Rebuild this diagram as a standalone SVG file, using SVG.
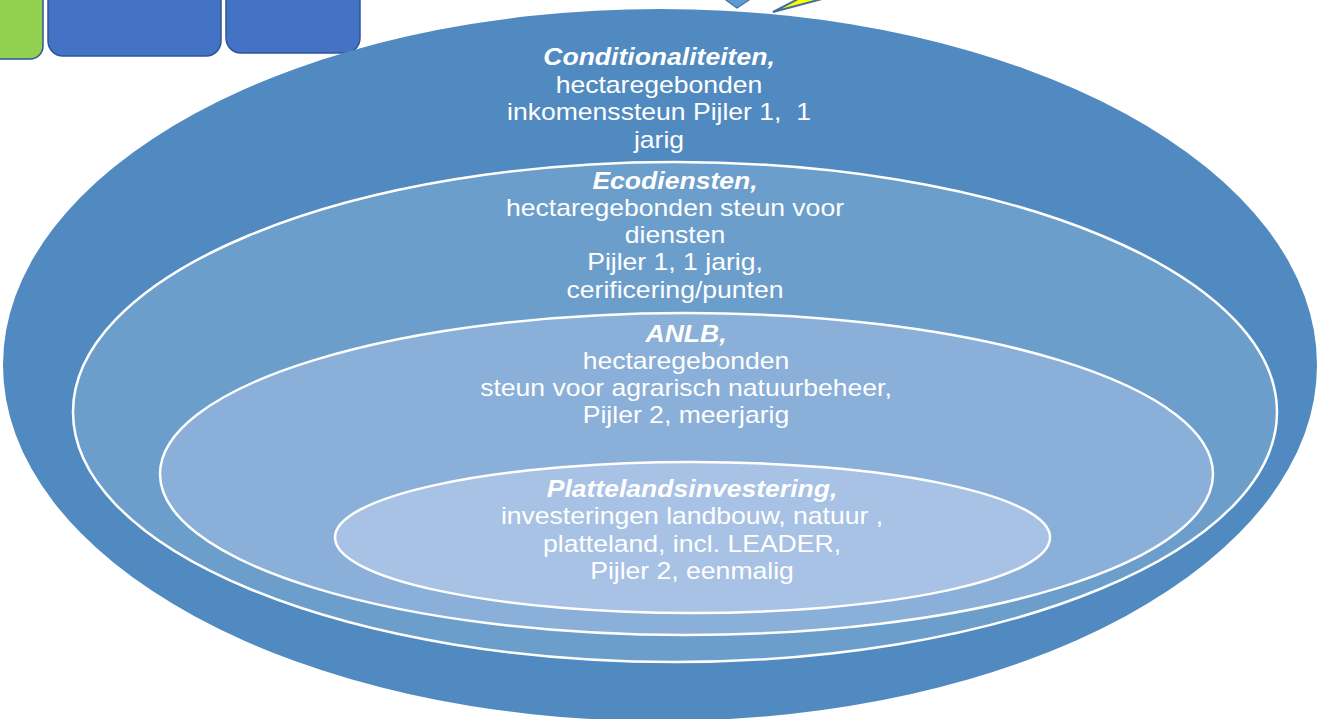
<svg xmlns="http://www.w3.org/2000/svg" width="1319" height="719" viewBox="0 0 1319 719">
<style>
.t{font-family:"Liberation Sans",Arial,sans-serif;font-size:23px;fill:#ffffff;text-anchor:middle}
.b{font-weight:bold;font-style:italic}
.ring{stroke:#ffffff;stroke-width:2.5}
.box{stroke:#2F5597;stroke-width:1.5}
</style>
<rect width="1319" height="719" fill="#ffffff"/>
<g id="top-boxes">
<rect id="box-green" class="box" x="-20" y="-20" width="63" height="79" rx="13" fill="#92D050"/>
<rect id="box-blue-1" class="box" x="48" y="-20" width="173" height="76" rx="15" fill="#4472C4"/>
<rect id="box-blue-2" class="box" x="226" y="-20" width="134" height="73" rx="15" fill="#4472C4"/>
</g>
<g id="top-arrows">
<polygon points="723,-2 752,-2 737,8" fill="#5B9BD5" stroke="#41719C" stroke-width="1.2"/>
<polygon points="773,12 798,-1 822,-1" fill="#FFFF00" stroke="#41719C" stroke-width="2"/>
</g>
<g id="node-conditionaliteiten">
<ellipse cx="660" cy="365" rx="657" ry="356" fill="#518AC0"/>
<g transform="translate(659,0) scale(1.155,1)">
<text class="t b" x="0" y="65">Conditionaliteiten,</text>
<text class="t" x="0" y="93">hectaregebonden</text>
<text class="t" x="0" y="120">inkomenssteun Pijler 1,&#160; 1</text>
<text class="t" x="0" y="148">jarig</text>
</g>
</g>
<g id="node-ecodiensten">
<ellipse class="ring" cx="675" cy="412" rx="602" ry="250" fill="#6C9ECC"/>
<g transform="translate(675,0) scale(1.155,1)">
<text class="t b" x="0" y="189">Ecodiensten,</text>
<text class="t" x="0" y="216">hectaregebonden steun voor</text>
<text class="t" x="0" y="243">diensten</text>
<text class="t" x="0" y="270">Pijler 1, 1 jarig,</text>
<text class="t" x="0" y="298">cerificering/punten</text>
</g>
</g>
<g id="node-anlb">
<ellipse class="ring" cx="686.5" cy="474" rx="526.5" ry="161" fill="#8AAFD8"/>
<g transform="translate(686,0) scale(1.155,1)">
<text class="t b" x="0" y="342">ANLB,</text>
<text class="t" x="0" y="369">hectaregebonden</text>
<text class="t" x="0" y="396">steun voor agrarisch natuurbeheer,</text>
<text class="t" x="0" y="423">Pijler 2, meerjarig</text>
</g>
</g>
<g id="node-plattelandsinvestering">
<ellipse class="ring" cx="692.5" cy="537.5" rx="357.5" ry="75.5" fill="#A7C2E4"/>
<g transform="translate(692,0) scale(1.155,1)">
<text class="t b" x="0" y="497">Plattelandsinvestering,</text>
<text class="t" x="0" y="524">investeringen landbouw, natuur ,</text>
<text class="t" x="0" y="552">platteland, incl. LEADER,</text>
<text class="t" x="0" y="579">Pijler 2, eenmalig</text>
</g>
</g>
<g id="connectors"></g>
</svg>
